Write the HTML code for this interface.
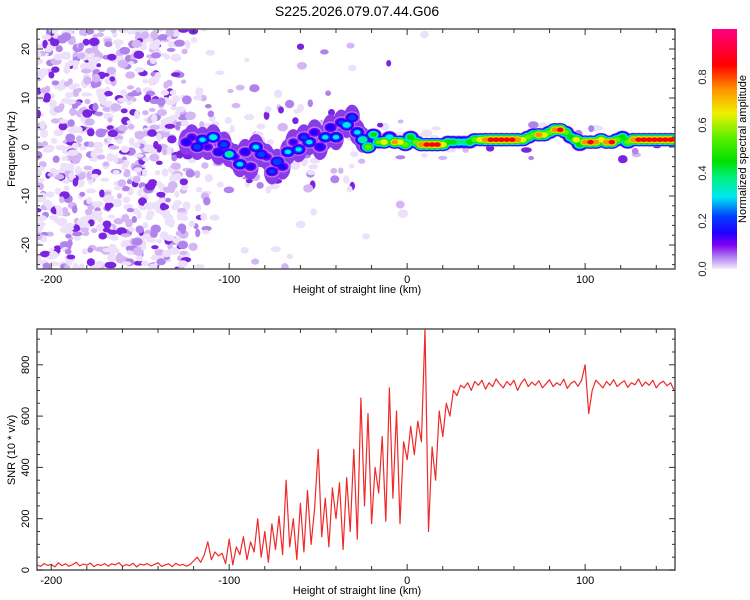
<!DOCTYPE html>
<html><head><meta charset="utf-8"><style>
body{margin:0;background:#fff;}
svg{display:block;font-family:"Liberation Sans",sans-serif;}
</style></head><body>
<svg id="c" width="750" height="600" viewBox="0 0 750 600" xmlns="http://www.w3.org/2000/svg">
<defs>
<clipPath id="clipTop"><rect x="37" y="29" width="638" height="240"/></clipPath>
<clipPath id="clipBot"><rect x="37" y="329" width="638" height="241"/></clipPath>
<linearGradient id="cmap" x1="0" y1="1" x2="0" y2="0">
<stop offset="0" stop-color="#f4ecfc"/><stop offset="0.05" stop-color="#b080f0"/><stop offset="0.1" stop-color="#8000f0"/>
<stop offset="0.15" stop-color="#2000ff"/><stop offset="0.22" stop-color="#0040ff"/><stop offset="0.3" stop-color="#00e8f0"/>
<stop offset="0.38" stop-color="#00f080"/><stop offset="0.45" stop-color="#00e000"/><stop offset="0.55" stop-color="#60f000"/>
<stop offset="0.65" stop-color="#f0f000"/><stop offset="0.75" stop-color="#ff9000"/><stop offset="0.85" stop-color="#ff0000"/>
<stop offset="1" stop-color="#ff0080"/></linearGradient>
</defs>
<text x="357" y="16" font-size="14" text-anchor="middle" fill="#000">S225.2026.079.07.44.G06</text>
<g id="topPanel"></g>
<g id="botPanel"></g>
<g id="cbar"></g>
</svg>
<script>
// ---- data ----
const snrStartKm = -208;
const snrStepKm = 2;
const snrValues = [20,14,25,18,22,12,28,17,24,15,21,30,16,23,19,27,13,22,18,25,15,24,20,29,14,21,17,26,12,23,19,25,16,22,28,14,20,24,13,26,18,22,15,21,
35,50,30,60,110,40,70,55,65,25,
120,20,90,60,130,40,110,70,200,50,
150,30,180,80,210,60,350,90,200,40,
260,70,310,100,240,470,130,280,90,320,
200,340,80,360,150,470,120,670,250,610,
180,400,300,520,190,710,280,620,180,500,
430,560,450,580,500,940,150,480,350,620,
520,650,600,700,680,720,710,730,700,735,
720,740,705,730,715,745,725,710,735,720,740,700,728,745,715,732,720,738,710,726,742,715,730,720,744,708,728,736,716,740,
800,610,700,740,725,710,735,720,742,715,728,738,712,730,722,745,716,733,720,740,710,728,736,718,730,700];
const trackHeights = [-124,-121,-118,-115,-112,-109,-106,-103,-100,-97,-94,-91,-88,-85,-82,-79,-76,-73,-70,-67,-64,-61,-58,-55,-52,-49,-46,-43,-40,-37,-34,-31,-28,-25,-22,-19,-16,-13,-10,-7,-4,-1,2,5,8,11,14,17,20,23,26,29,32,35,38,41,44,47,50,53,56,59,62,65,68,71,74,77,80,83,86,89,92,95,97,100,103,106,109,112,115,118,121,124,127,130,133,136,139,142,145,148,151];
const trackFreqs = [1,2,0,1.5,0,2,-1,0.5,-1.5,-2,-3.5,-1,-4,0,-1.5,-2,-5,-3,-4,-1,1,-0.5,2,1,3,0,2,4,2,5,4.5,6,3,1.5,0,2.5,1,1,2,1,1,0.5,2,1,0.5,0.5,0.5,0.5,0.5,1,1,1,1,1,1.5,1.5,1.5,1.5,1.5,1.5,1.5,1.5,1.5,1.5,2,2.5,2.5,2.5,3,3.5,3.5,3,2,1.5,0.5,1,1,1,1.5,1,1,1.5,2,1,1.5,1.5,1.5,1.5,1.5,1.5,1.5,1.5,1.5];
const trackAmps = [0.2,0.15,0.25,0.3,0.15,0.35,0.2,0.25,0.38,0.15,0.3,0.2,0.18,0.3,0.25,0.15,0.22,0.28,0.18,0.3,0.15,0.3,0.22,0.3,0.18,0.2,0.3,0.2,0.3,0.22,0.35,0.25,0.3,0.4,0.6,0.45,0.55,0.7,0.35,0.75,0.7,0.6,0.5,0.6,0.8,0.85,0.85,0.85,0.7,0.5,0.45,0.4,0.4,0.5,0.6,0.7,0.8,0.85,0.85,0.85,0.85,0.85,0.8,0.7,0.6,0.6,0.8,0.7,0.6,0.8,0.85,0.6,0.5,0.7,0.5,0.8,0.85,0.8,0.7,0.8,0.85,0.6,0.5,0.6,0.8,0.85,0.85,0.85,0.85,0.85,0.85,0.85,0.85];
const xTicksLabeled = [-200,-100,0,100];
const freqTicks = [-20,-10,0,10,20];
const snrTicks = [0,200,400,600,800];
const cbarTicks = [0.0,0.2,0.4,0.6,0.8];

// ---- scales ----
const X0=37,X1=675,XMIN=-208,XMAX=150.5;
const xs=v=>X0+(v-XMIN)/(XMAX-XMIN)*(X1-X0);
const yf=v=>147-v*4.9;
const ys=v=>570-v*0.2565;
const NS="http://www.w3.org/2000/svg";
function mk(tag,attrs,parent){const e=document.createElementNS(NS,tag);for(const k in attrs)e.setAttribute(k,attrs[k]);parent.appendChild(e);return e;}
const stops=[[0,[244,236,252]],[0.05,[176,128,240]],[0.1,[128,0,240]],[0.15,[32,0,255]],[0.22,[0,64,255]],[0.3,[0,232,240]],[0.38,[0,240,128]],[0.45,[0,224,0]],[0.55,[96,240,0]],[0.65,[240,240,0]],[0.75,[255,144,0]],[0.85,[255,0,0]],[1,[255,0,128]]];
function cmap(v){for(let i=1;i<stops.length;i++){if(v<=stops[i][0]){const a=stops[i-1],b=stops[i],t=(v-a[0])/(b[0]-a[0]);return 'rgb('+a[1].map((c,j)=>Math.round(c+(b[1][j]-c)*t)).join(',')+')';}}return 'rgb(255,0,128)';}

const topG=document.getElementById('topPanel'),botG=document.getElementById('botPanel'),cbG=document.getElementById('cbar');

// ---- spectrogram ----
const hm=mk('g',{'clip-path':'url(#clipTop)'},topG);


// decorative noise texture (deterministic)
let seed=12345;function rnd(){seed=(seed*16807)%2147483647;return seed/2147483647;}
const noiseG=mk('g',{},hm);


for(let k=0;k<3600;k++){
  const h=XMIN+rnd()*(150+208); const f=-25+rnd()*50; const r=rnd(); const r2=rnd();
  let dens = h<-125?1:(h<-110?0.3:(h<-30?(Math.abs(f)<9?0.35:0.04):(h<10?(Math.abs(f)<5?0.15:0.01):(Math.abs(f-1.5)<4?0.12:0))));
  if(r2>dens)continue;
  const col = r<0.45?'#ece0fb':(r<0.72?'#d4b6f5':(r<0.88?'#b083ec':'#7a24e2'));
  mk('ellipse',{cx:xs(h).toFixed(1),cy:yf(f).toFixed(1),rx:(2.5+rnd()*3).toFixed(1),ry:(2+rnd()*2.5).toFixed(1),fill:col},noiseG);
}
// purple halo around the diffuse part of the track
for(let i=0;i<trackHeights.length;i++){
  if(trackHeights[i]>-25)continue;
  const e=mk('ellipse',{cx:xs(trackHeights[i]).toFixed(1),cy:yf(trackFreqs[i]).toFixed(1),rx:8,ry:13,fill:'#8a3ae8'},hm);
  
  
}
// track
const levels=[0.05,0.1,0.15,0.22,0.3,0.38,0.45,0.55,0.65,0.75,0.85];
for(const L of levels){
  for(let i=0;i<trackHeights.length;i++){
    const a=trackAmps[i]; if(a<L)continue;
    const s=1-L/a+0.2;
    const e=mk('ellipse',{cx:xs(trackHeights[i]).toFixed(1),cy:yf(trackFreqs[i]).toFixed(1),rx:(2+6*s).toFixed(1),ry:(1.2+5*s).toFixed(1),fill:cmap(L)},hm);
    
    
  }
}

// ---- axes frames & ticks ----
function frame(g,y0,y1,name){
  const r=mk('rect',{x:X0,y:y0,width:X1-X0,height:y1-y0,fill:'none',stroke:'#555','stroke-width':1.5},g);
  
  
  for(let v=-200;v<=140;v+=20){const x=xs(v);const L=v%100===0?6:4;
    mk('line',{x1:x,y1:y1,x2:x,y2:y1-L,stroke:'#333'},g);mk('line',{x1:x,y1:y0,x2:x,y2:y0+L,stroke:'#333'},g);}
  for(const v of xTicksLabeled){const t=mk('text',{x:xs(v),y:y1+14,'font-size':11,'text-anchor':'middle'},g);t.textContent=v;
    
    }
  const xt=mk('text',{x:357,y:y1+24,'font-size':11,'text-anchor':'middle'},g);xt.textContent='Height of straight line (km)';
  
  
}
frame(topG,29,269,'spectrogram-frame');
for(let v=-24;v<=24;v+=2){const y=yf(v);const L=v%10===0?6:3;mk('line',{x1:X0,y1:y,x2:X0+L,y2:y,stroke:'#333'},topG);mk('line',{x1:X1,y1:y,x2:X1-L,y2:y,stroke:'#333'},topG);}
for(const v of freqTicks){const t=mk('text',{transform:`translate(29,${yf(v)}) rotate(-90)`,'font-size':11,'text-anchor':'middle'},topG);t.textContent=v;
  
  }
const yt1=mk('text',{transform:'translate(15,149) rotate(-90)','font-size':11,'text-anchor':'middle'},topG);yt1.textContent='Frequency (Hz)';



// ---- SNR ----
const lg=mk('g',{'clip-path':'url(#clipBot)'},botG);
let d='';snrValues.forEach((v,i)=>{const h=snrStartKm+i*snrStepKm;d+=(i?'L':'M')+xs(h).toFixed(1)+','+ys(v).toFixed(1);});
const pl=mk('path',{d:d,fill:'none',stroke:'#ee2a2a','stroke-width':1.2,'stroke-linejoin':'round'},lg);


frame(botG,329,570,'snr-frame');
for(let v=0;v<=900;v+=50){const y=ys(v);const L=v%200===0?6:3;mk('line',{x1:X0,y1:y,x2:X0+L,y2:y,stroke:'#333'},botG);mk('line',{x1:X1,y1:y,x2:X1-L,y2:y,stroke:'#333'},botG);}
for(const v of snrTicks){const t=mk('text',{transform:`translate(29,${ys(v)}) rotate(-90)`,'font-size':11,'text-anchor':'middle'},botG);t.textContent=v;
  
  }
const yt2=mk('text',{transform:'translate(15,450) rotate(-90)','font-size':11,'text-anchor':'middle'},botG);yt2.textContent='SNR (10 * v/v)';



// ---- colorbar ----
const cr=mk('rect',{x:712,y:29,width:25,height:240,fill:'url(#cmap)'},cbG);


const cy=v=>269-v*240;
for(const v of cbarTicks){const t=mk('text',{transform:`translate(706,${cy(v)}) rotate(-90)`,'font-size':11,'text-anchor':'middle',fill:'#222'},cbG);t.textContent=v.toFixed(1);
  
  }
const ct=mk('text',{transform:'translate(746,149) rotate(-90)','font-size':11,'text-anchor':'middle'},cbG);ct.textContent='Normalized spectral amplitude';


</script>
</body></html>
